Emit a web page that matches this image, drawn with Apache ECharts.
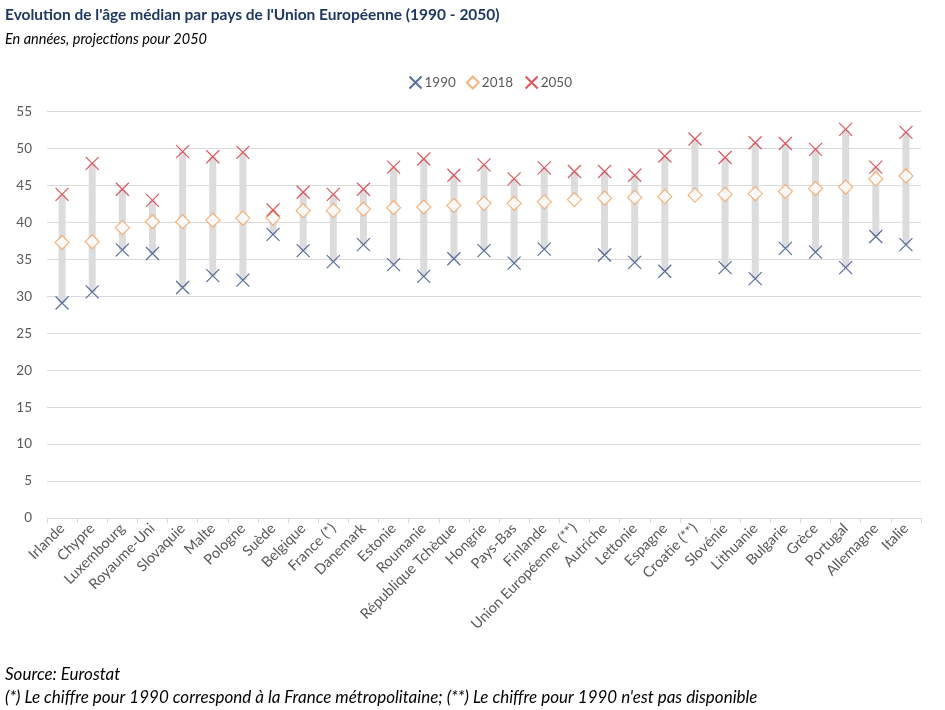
<!DOCTYPE html>
<html><head><meta charset="utf-8">
<script src="https://cdn.jsdelivr.net/npm/echarts@6/dist/echarts.min.js"></script>
<style>html,body{margin:0;padding:0;background:#fff}#c{width:945px;height:710px}</style>
</head><body><div id="c"></div>
<script>
const categories = ["Irlande","Chypre","Luxembourg","Royaume-Uni","Slovaquie","Malte","Pologne","Suède","Belgique","France (*)","Danemark","Estonie","Roumanie","République Tchèque","Hongrie","Pays-Bas","Finlande","Union Européenne (**)","Autriche","Lettonie","Espagne","Croatie (**)","Slovénie","Lithuanie","Bulgarie","Grèce","Portugal","Allemagne","Italie"];
const v1990 = [29.1,30.6,36.3,35.8,31.2,32.8,32.2,38.4,36.2,34.7,37.0,34.3,32.7,35.1,36.2,34.5,36.4,null,35.6,34.6,33.4,null,33.9,32.4,36.5,36.0,33.9,38.1,37.0];
const v2018 = [37.3,37.4,39.3,40.1,40.1,40.3,40.6,40.6,41.6,41.6,41.8,42.0,42.1,42.3,42.6,42.6,42.8,43.1,43.3,43.4,43.5,43.7,43.8,43.9,44.2,44.6,44.8,45.9,46.3];
const v2050 = [43.8,48.0,44.5,43.0,49.6,48.9,49.5,41.7,44.1,43.8,44.5,47.5,48.6,46.4,47.8,45.9,47.4,46.9,46.9,46.4,49.0,51.3,48.8,50.8,50.7,49.9,52.6,47.5,52.2];
const yTicks = {min:0, max:55, interval:5};

const lo = categories.map((c,i)=>Math.min(...[v1990[i],v2018[i],v2050[i]].filter(v=>v!=null)));
const hi = categories.map((c,i)=>Math.max(...[v1990[i],v2018[i],v2050[i]].filter(v=>v!=null)));
const rng = hi.map((h,i)=>+(h-lo[i]).toFixed(2));

const X = 'path://M0,0L10,10M10,0L0,10';
const font = 'Lato, "Open Sans", sans-serif';
const ital = {fontFamily:font,fontStyle:'italic',fontWeight:'normal',color:'#000'};
const chart = echarts.init(document.getElementById('c'));
chart.setOption({
  animation:false,
  textStyle:{fontFamily:font},
  title:[
    {text:"Evolution de l'âge médian par pays de l'Union Européenne (1990 - 2050)",left:0,top:2,textStyle:{fontFamily:font,fontSize:15.5,fontWeight:'bold',color:'#203864'}},
    {text:"En années, projections pour 2050",left:0,top:27,textStyle:Object.assign({fontSize:14.5},ital)},
    {text:"Source: Eurostat",left:0,top:661,textStyle:Object.assign({fontSize:17},ital)},
    {text:"(*) Le chiffre pour 1990 correspond à la France métropolitaine; (**) Le chiffre pour 1990 n'est pas disponible",left:0,top:684,textStyle:Object.assign({fontSize:17},ital)}
  ],
  legend:{data:['1990','2018','2050'],top:69,left:402,itemWidth:12,itemHeight:12,itemGap:10,
    textStyle:{fontFamily:font,fontSize:13.5,color:'#595959',padding:[0,0,0,-2]}},
  grid:{left:47,right:24,top:111.7,bottom:192},
  xAxis:{type:'category',data:categories,boundaryGap:true,
    axisLine:{lineStyle:{color:'#d9d9d9'}},
    axisTick:{show:true,alignWithLabel:false,length:5,lineStyle:{color:'#d9d9d9'}},
    axisLabel:{rotate:45,interval:0,fontSize:14.5,color:'#595959',fontFamily:font,margin:8}},
  yAxis:{type:'value',min:yTicks.min,max:yTicks.max,interval:yTicks.interval,
    axisLine:{show:false},axisTick:{show:false},
    splitLine:{lineStyle:{color:'#d9d9d9',width:1}},
    axisLabel:{fontSize:13.5,color:'#595959',fontFamily:font,margin:15}},
  series:[
    {type:'bar',stack:'r',data:lo,barWidth:7,itemStyle:{color:'transparent'},silent:true,z:1},
    {type:'bar',stack:'r',data:rng,barWidth:7,itemStyle:{color:'#dcdcdc'},silent:true,z:1},
    {name:'1990',type:'scatter',data:v1990,symbol:X,symbolSize:13,itemStyle:{color:'none',borderColor:'#2f4a86',borderWidth:1.2},z:3},
    {name:'2018',type:'scatter',data:v2018,symbol:'diamond',symbolSize:14,itemStyle:{color:'#fff',borderColor:'#f4a15d',borderWidth:1.2},z:3},
    {name:'2050',type:'scatter',data:v2050,symbol:X,symbolSize:13,itemStyle:{color:'none',borderColor:'#d5303a',borderWidth:1.2},z:3}
  ]
});
</script></body></html>
